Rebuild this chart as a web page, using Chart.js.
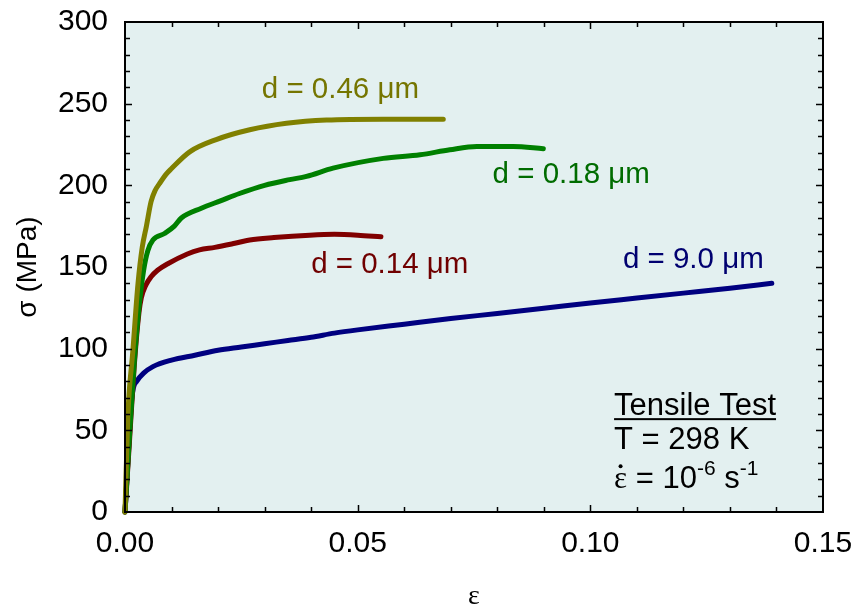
<!DOCTYPE html>
<html>
<head>
<meta charset="utf-8">
<script src="https://cdn.jsdelivr.net/npm/chart.js@4.4.0/dist/chart.umd.min.js"></script>
<style>
  html, body { margin: 0; padding: 0; background: #fff; }
  #wrap { width: 854px; height: 613px; }
</style>
</head>
<body>
<div id="wrap"><canvas id="tensile"></canvas></div>
<script>
// grain size d = 0.46 um
const strain046 = [0, 0.0006, 0.0017, 0.0028, 0.0037, 0.0046, 0.0056, 0.0065, 0.0074, 0.0089, 0.0099, 0.0139, 0.0196, 0.0268, 0.0347, 0.0433, 0.0555, 0.0684];
const stress046 = [0, 58, 99, 140, 162, 175, 190, 197, 201, 207, 210, 220.5, 228, 234, 238, 240, 240.5, 240.5];

// d = 0.18 um
const strain018 = [0, 0.001, 0.002, 0.003, 0.004, 0.0049, 0.006, 0.0085, 0.0106, 0.0121, 0.0164, 0.0205, 0.0246, 0.0300, 0.0354, 0.039, 0.0447, 0.0555, 0.0634, 0.0698, 0.0756, 0.0834, 0.0899];
const stress018 = [0, 48, 92, 125, 148, 160, 166.5, 170.5, 175, 180, 186, 190.5, 195, 200, 203.5, 205.5, 210.5, 216.5, 218.7, 221.8, 223.8, 223.8, 222.4];

// d = 0.14 um
const strain014 = [0, 0.001, 0.002, 0.003, 0.0035, 0.0045, 0.0056, 0.007, 0.0092, 0.0134, 0.016, 0.0193, 0.0236, 0.0268, 0.032, 0.0397, 0.045, 0.05, 0.055];
const stress014 = [0, 45, 90, 122, 131, 139, 144, 148, 152, 158, 160.5, 162, 164.5, 166.5, 168, 169.5, 170, 169.5, 168.5];

// d = 9.0 um
const strain90 = [0, 0.0005, 0.001, 0.0014, 0.0018, 0.0025, 0.004, 0.006, 0.01, 0.015, 0.02, 0.025, 0.03, 0.035, 0.04, 0.045, 0.05, 0.06, 0.07, 0.08, 0.09, 0.1, 0.11, 0.12, 0.13, 0.139];
const stress90 = [0, 25, 50, 68, 76, 80, 85, 89, 93, 96, 99, 101, 103, 105, 107, 109.5, 111.5, 115, 118.5, 121.5, 124.7, 128, 131, 134, 137, 140];

const seriesLabels = ["d = 0.46 \u03bcm", "d = 0.18 \u03bcm", "d = 0.14 \u03bcm", "d = 9.0 \u03bcm"];
const seriesColors = ["#808000", "#008000", "#800000", "#000080"];
const textColors = ["#757500", "#006c00", "#700000", "#000070"];

const xTicks = [0, 0.05, 0.1, 0.15];
const yTicks = [0, 50, 100, 150, 200, 250, 300];

function pairs(xs, ys) {
  return xs.map((x, i) => ({ x: x, y: ys[i] }));
}

const seriesData = [
  pairs(strain046, stress046),
  pairs(strain018, stress018),
  pairs(strain014, stress014),
  pairs(strain90, stress90),
];

const SANS = "'Liberation Sans', Arial, sans-serif";
const SERIF = "'Liberation Serif', 'Times New Roman', serif";

// light plot background, frame and inward ticks on all four sides
const framePlugin = {
  id: "frame",
  beforeDraw(chart) {
    const a = chart.chartArea;
    const ctx = chart.ctx;
    ctx.save();
    ctx.fillStyle = "#e3f0f0";
    ctx.fillRect(a.left, a.top, a.right - a.left, a.bottom - a.top);
    ctx.restore();
  },
  afterDraw(chart) {
    const a = chart.chartArea;
    const ctx = chart.ctx;
    const xs = chart.scales.x;
    const ys = chart.scales.y;
    ctx.save();
    ctx.strokeStyle = "#000";
    ctx.lineWidth = 1.5;
    ctx.beginPath();
    for (let i = 1; i < 15; i++) {
      const px = Math.round(xs.getPixelForValue(i / 100)) + 0.5;
      const len = i % 5 === 0 ? 7 : 5;
      ctx.moveTo(px, a.bottom);
      ctx.lineTo(px, a.bottom - len);
      ctx.moveTo(px, a.top);
      ctx.lineTo(px, a.top + len);
    }
    for (let v = 10; v < 300; v += 10) {
      const py = Math.round(ys.getPixelForValue(v)) + 0.5;
      const len = v % 50 === 0 ? 7 : 5;
      ctx.moveTo(a.left, py);
      ctx.lineTo(a.left + len, py);
      ctx.moveTo(a.right, py);
      ctx.lineTo(a.right - len, py);
    }
    ctx.stroke();
    ctx.lineWidth = 2;
    ctx.strokeRect(a.left, a.top, a.right - a.left, a.bottom - a.top);
    ctx.restore();
  },
};

// curve labels and the test-condition note
const notesPlugin = {
  id: "notes",
  afterDatasetsDraw(chart) {
    const ctx = chart.ctx;
    const xs = chart.scales.x;
    const ys = chart.scales.y;
    const anchors = [[0.0294, 258.5], [0.079, 206.4], [0.040, 151.2], [0.107, 154.2]];
    ctx.save();
    ctx.font = "29.5px " + SANS;
    ctx.textBaseline = "middle";
    ctx.textAlign = "left";
    seriesLabels.forEach((txt, i) => {
      ctx.fillStyle = textColors[i];
      ctx.fillText(txt, xs.getPixelForValue(anchors[i][0]), ys.getPixelForValue(anchors[i][1]));
    });

    const x0 = xs.getPixelForValue(0.1051);
    const y0 = ys.getPixelForValue(59.3);
    ctx.fillStyle = "#000";
    ctx.textBaseline = "alphabetic";
    ctx.font = "31px " + SANS;
    const head = "Tensile Test";
    ctx.fillText(head, x0, y0);
    const w = ctx.measureText(head).width;
    ctx.fillRect(x0, y0 + 3, w, 2);
    ctx.fillText("T = 298 K", x0, y0 + 34);

    // strain rate line with superscripts
    let x = x0;
    const yb = y0 + 73;
    ctx.font = "31px " + SERIF;
    ctx.fillText("\u03b5", x, yb);
    const ew = ctx.measureText("\u03b5").width;
    ctx.beginPath();
    ctx.arc(x + ew / 2, yb - 22, 2, 0, Math.PI * 2);
    ctx.fill();
    x += ew;
    ctx.font = "31px " + SANS;
    ctx.fillText(" = 10", x, yb);
    x += ctx.measureText(" = 10").width;
    ctx.font = "21px " + SANS;
    ctx.fillText("-6", x, yb - 13);
    x += ctx.measureText("-6").width;
    ctx.font = "31px " + SANS;
    ctx.fillText(" s", x, yb);
    x += ctx.measureText(" s").width;
    ctx.font = "21px " + SANS;
    ctx.fillText("-1", x, yb - 13);
    ctx.restore();
  },
};

new Chart(document.getElementById("tensile"), {
  type: "line",
  data: {
    datasets: seriesData.map((pts, i) => ({
      label: seriesLabels[i],
      data: pts,
      borderColor: seriesColors[i],
      backgroundColor: seriesColors[i],
      borderWidth: 5,
      pointRadius: 0,
      fill: false,
      cubicInterpolationMode: "monotone",
      borderCapStyle: "round",
      borderJoinStyle: "round",
      clip: 6,
    })),
  },
  options: {
    responsive: true,
    maintainAspectRatio: false,
    animation: false,
    layout: { padding: { top: 22, right: 31, left: 0, bottom: 0 } },
    plugins: {
      legend: { display: false },
      tooltip: { enabled: false },
    },
    scales: {
      x: {
        type: "linear",
        min: 0,
        max: 0.15,
        afterFit: (scale) => {
          scale.height = 101;
          scale.paddingLeft = 0;
          scale.paddingRight = 0;
        },
        afterBuildTicks: (scale) => { scale.ticks = xTicks.map((v) => ({ value: v })); },
        grid: { display: false, drawTicks: false },
        border: { display: false },
        ticks: {
          autoSkip: false,
          maxRotation: 0,
          padding: 14,
          color: "#000",
          font: { family: SANS, size: 30 },
          callback: (v) => v.toFixed(2),
        },
        title: {
          display: true,
          text: "\u03b5",
          color: "#000",
          font: { family: SERIF, size: 28, lineHeight: 1.15 },
          padding: 0,
        },
      },
      y: {
        type: "linear",
        min: 0,
        max: 300,
        afterFit: (scale) => {
          scale.width = 125;
          scale.paddingTop = 0;
          scale.paddingBottom = 0;
        },
        afterBuildTicks: (scale) => { scale.ticks = yTicks.map((v) => ({ value: v })); },
        grid: { display: false, drawTicks: false },
        border: { display: false },
        ticks: {
          autoSkip: false,
          padding: 17,
          color: "#000",
          font: { family: SANS, size: 30 },
        },
        title: {
          display: true,
          text: "\u03c3 (MPa)",
          color: "#000",
          font: { family: SANS, size: 28, lineHeight: 1.2 },
          padding: { top: 11, bottom: 0 },
        },
      },
    },
  },
  plugins: [framePlugin, notesPlugin],
});
</script>
</body>
</html>
